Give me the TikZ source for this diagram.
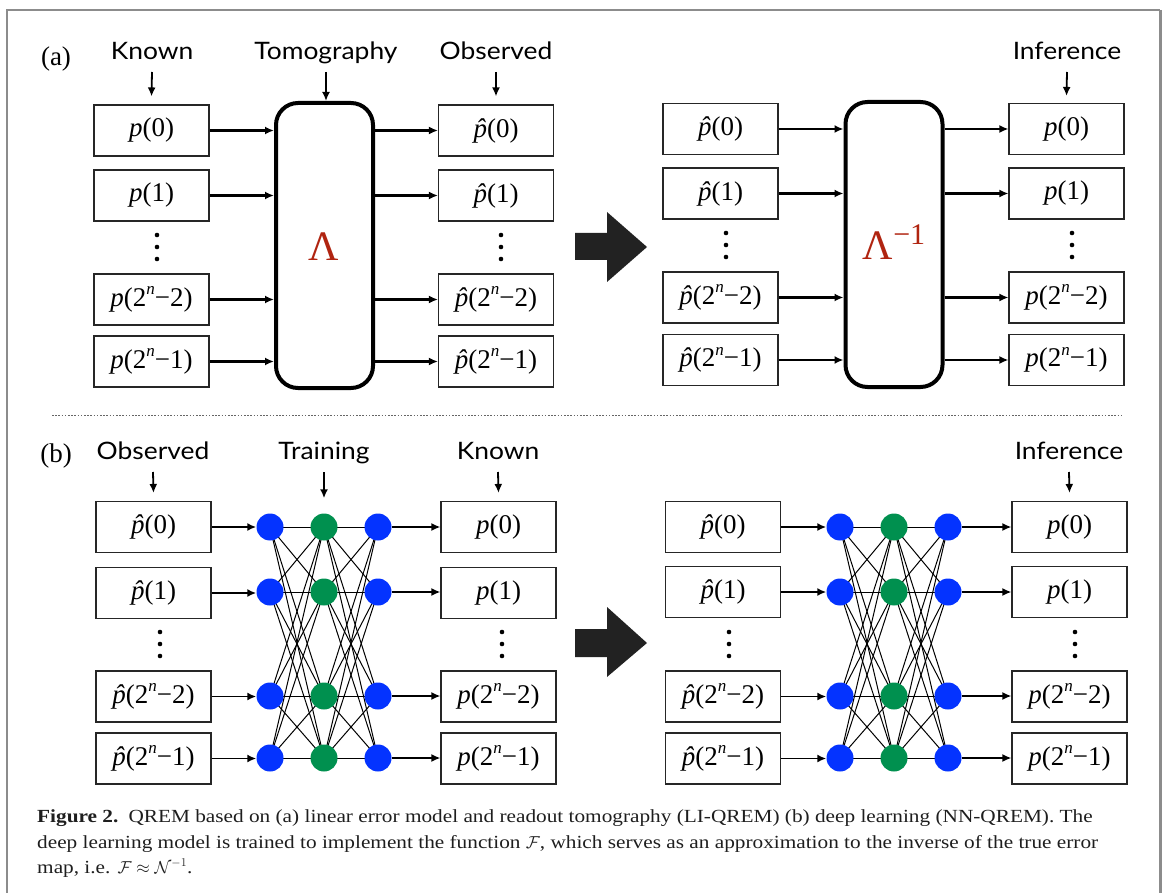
\documentclass[tikz,border=0pt]{standalone}
\usepackage{fontspec}
\setmainfont{Liberation Serif}
\newfontfamily\labelfont[FakeStretch=1.1]{Lato}
\newfontfamily\capfont[FakeStretch=1.15]{Liberation Serif}
\usetikzlibrary{arrows.meta,backgrounds}

\definecolor{nnblue}{HTML}{0433FF}
\definecolor{nngreen}{HTML}{00904F}
\definecolor{lamred}{HTML}{B02410}
\definecolor{framegray}{HTML}{8C8C8C}
\definecolor{bigarrow}{HTML}{222222}
\definecolor{captext}{HTML}{1E1E1E}

% probability entries
\newcommand{\hp}{{\itshape\accent"02C6 p}}
\newcommand{\sn}{\raisebox{0.42em}{\fontsize{17}{17}\selectfont\textit{n}}}
\newcommand{\pp}[1]{\textit{p}(#1)}
\newcommand{\ph}[1]{\hp(#1)}
\newcommand{\ppn}[1]{\textit{p}(2\sn−#1)}
\newcommand{\phn}[1]{\hp(2\sn−#1)}

\begin{document}
\begin{tikzpicture}[x=1pt,y=-1pt,
  cell/.style={draw=black!85, line width=1.1pt, minimum width=115pt, minimum height=51pt,
               inner sep=0pt, font=\fontsize{27}{27}\selectfont},
  tag/.style={font=\labelfont\fontsize{24}{24}\selectfont, inner sep=0pt, anchor=base},
  panel/.style={font=\fontsize{27}{27}\selectfont, inner sep=0pt, anchor=base},
  mapbox/.style={draw, line width=4pt, rounded corners=22pt, minimum width=97pt,
                 minimum height=285pt, inner sep=0pt},
  flow/.style={line width=2.3pt, -{Latex[length=9pt,width=8pt]}},
  thinflow/.style={line width=1.8pt, -{Latex[length=9pt,width=8pt]}},
  pointer/.style={line width=1.8pt, -{Latex[length=9pt,width=8pt]}},
  neuronB/.style={circle, fill=nnblue, minimum size=27pt, inner sep=0pt},
  neuronG/.style={circle, fill=nngreen, minimum size=27pt, inner sep=0pt},
  link/.style={line width=1pt},
  bigarr/.style={fill=bigarrow},
  capline/.style={font=\capfont\fontsize{18.5}{20}\selectfont, text=captext, inner sep=0pt, anchor=base west}
]
\useasboundingbox (0,0) rectangle (1165,893);

% outer frame
\draw[framegray, line width=1.5pt] (7,893) -- (7,10) -- (1160,10);
\draw[framegray, line width=3pt] (1160,10) -- (1160,893);

% ---------------- panel (a) ----------------
\node[panel] (pa) at (56,66) {(a)};
\node[tag] (tKa) at (152,60) {Known};
\node[tag] (tTo) at (326,60) {Tomography};
\node[tag] (tOa) at (496,60) {Observed};
\node[tag] (tIa) at (1067,60) {Inference};

% known distribution
\node[cell] (aK0) at (151.5,130.5) {\pp{0}};
\node[cell] (aK1) at (151.5,195.5) {\pp{1}};
\node[cell] (aK2) at (151.5,299.5) {\ppn{2}};
\node[cell] (aK3) at (151.5,361.5) {\ppn{1}};
% tomography map
\node[mapbox] (aL) at (324.5,245.5) {};
\node[font=\fontsize{42}{42}\selectfont, text=lamred, inner sep=0pt, anchor=base] (aLt) at (324,261) {Λ};
% observed distribution
\node[cell] (aO0) at (496,130.5) {\ph{0}};
\node[cell] (aO1) at (496,195.5) {\ph{1}};
\node[cell] (aO2) at (496,299.5) {\phn{2}};
\node[cell] (aO3) at (496,361.5) {\phn{1}};

% observed distribution, second stage
\node[cell] (aP0) at (720.5,129) {\ph{0}};
\node[cell] (aP1) at (720.5,193.5) {\ph{1}};
\node[cell] (aP2) at (720.5,297.5) {\phn{2}};
\node[cell] (aP3) at (720.5,360) {\phn{1}};
% inverse map
\node[mapbox] (aM) at (894,244.5) {};
\node[font=\fontsize{42}{42}\selectfont, text=lamred, inner sep=0pt, anchor=base] (aMt) at (894,260)
  {Λ\raisebox{15pt}{\fontsize{30}{30}\selectfont −1}};
% inferred distribution
\node[cell] (aI0) at (1066.5,129) {\pp{0}};
\node[cell] (aI1) at (1066.5,193.5) {\pp{1}};
\node[cell] (aI2) at (1066.5,297.5) {\ppn{2}};
\node[cell] (aI3) at (1066.5,360) {\ppn{1}};

% vertical ellipses
\foreach \x/\y in {157/235, 501/235, 726/233, 1072/233}{
  \foreach \d in {0,12,24}{ \fill (\x,\y+\d) circle (2.3pt); }
}

% label pointers
\draw[pointer] ([yshift=-12pt]tKa.base) -- ([yshift=8pt]aK0.north);
\draw[pointer] ([yshift=-12pt]tTo.base) -- (tTo.base |- aL.north);
\draw[pointer] ([yshift=-12pt]tOa.base) -- ([yshift=8pt]aO0.north);
\draw[pointer] ([yshift=-12pt]tIa.base) -- ([yshift=7pt]aI0.north);

% flows through the maps
\foreach \i in {0,1,2,3}{
  \draw[flow] (aK\i.east) -- (aL.west |- aK\i.east);
  \draw[flow] (aL.east |- aO\i.west) -- (aO\i.west);
  \draw[flow] (aP\i.east) -- (aM.west |- aP\i.east);
  \draw[flow] (aM.east |- aI\i.west) -- (aI\i.west);
}

% transition arrow
\fill[bigarr] (575,233) -- (607,233) -- (607,212) -- (647,247) -- (607,282) -- (607,260) -- (575,260) -- cycle;

% separator
\draw[black!60, line width=1pt, dash pattern=on 1.6pt off 1.6pt] (52,415) -- (1123,415);

% ---------------- panel (b) ----------------
\node[panel] (pb) at (56,462) {(b)};
\node[tag] (tOb) at (153,459) {Observed};
\node[tag] (tTr) at (324,459) {Training};
\node[tag] (tKb) at (498,459) {Known};
\node[tag] (tIb) at (1069,459) {Inference};

% observed inputs
\node[cell] (bO0) at (153.5,527) {\ph{0}};
\node[cell] (bO1) at (153.5,593) {\ph{1}};
\node[cell] (bO2) at (153.5,696.5) {\phn{2}};
\node[cell] (bO3) at (153.5,758.5) {\phn{1}};
% known targets
\node[cell] (bK0) at (498.5,527) {\pp{0}};
\node[cell] (bK1) at (498.5,593) {\pp{1}};
\node[cell] (bK2) at (498.5,696.5) {\ppn{2}};
\node[cell] (bK3) at (498.5,758.5) {\ppn{1}};
% observed inputs, inference stage
\node[cell] (bP0) at (723,527) {\ph{0}};
\node[cell] (bP1) at (723,592) {\ph{1}};
\node[cell] (bP2) at (723,696.5) {\phn{2}};
\node[cell] (bP3) at (723,758.5) {\phn{1}};
% inferred outputs
\node[cell] (bI0) at (1069.5,527) {\pp{0}};
\node[cell] (bI1) at (1069.5,592) {\pp{1}};
\node[cell] (bI2) at (1069.5,696.5) {\ppn{2}};
\node[cell] (bI3) at (1069.5,758.5) {\ppn{1}};

\foreach \x in {160,502,729,1075}{
  \foreach \d in {0,12,24}{ \fill (\x,632+\d) circle (2.3pt); }
}

% two small networks
\foreach \net/\xa/\xb/\xc in {u/270/324/378, v/840/894/948}{
  \foreach \i/\y in {0/527,1/592,2/696,3/758}{
    \node[neuronB] (\net A\i) at (\xa,\y) {};
    \node[neuronG] (\net B\i) at (\xb,\y) {};
    \node[neuronB] (\net C\i) at (\xc,\y) {};
  }
  \begin{pgfonlayer}{background}
    \foreach \i in {0,1,2,3}{
      \foreach \j in {0,1,2,3}{
        \draw[link] (\net A\i.center) -- (\net B\j.center);
        \draw[link] (\net B\i.center) -- (\net C\j.center);
      }
    }
  \end{pgfonlayer}
}

% label pointers
\draw[pointer] ([yshift=-13pt]tOb.base) -- ([yshift=8pt]bO0.north);
\draw[pointer] ([yshift=-13pt]tTr.base) -- ([yshift=15pt]uB0.north);
\draw[pointer] ([yshift=-13pt]tKb.base) -- ([yshift=8pt]bK0.north);
\draw[pointer] ([yshift=-13pt]tIb.base) -- ([yshift=8pt]bI0.north);

% flows into and out of the networks
\foreach \i in {0,1,2,3}{
  \draw[thinflow] (bO\i.east) -- (uA\i.west |- bO\i.east);
  \draw[thinflow] (uC\i.east) -- (bK\i.west |- uC\i.east);
  \draw[thinflow] (bP\i.east) -- (vA\i.west |- bP\i.east);
  \draw[thinflow] (vC\i.east) -- (bI\i.west |- vC\i.east);
}

\fill[bigarr] (575,629) -- (607,629) -- (607,607) -- (647,643) -- (607,677) -- (607,657) -- (575,657) -- cycle;

% ---------------- caption ----------------
\node[capline] (c1) at (37,822) {\textbf{Figure 2.}\hspace{0.55em}QREM based on (a) linear error model and readout tomography (LI-QREM) (b) deep learning (NN-QREM). The};
\node[capline] (c2) at (37,848) {deep learning model is trained to implement the function $\mathcal{F}$, which serves as an approximation to the inverse of the true error};
\node[capline] (c3) at (37,873) {map, i.e. $\mathcal{F}\approx\mathcal{N}^{-1}$.};
\end{tikzpicture}
\end{document}
